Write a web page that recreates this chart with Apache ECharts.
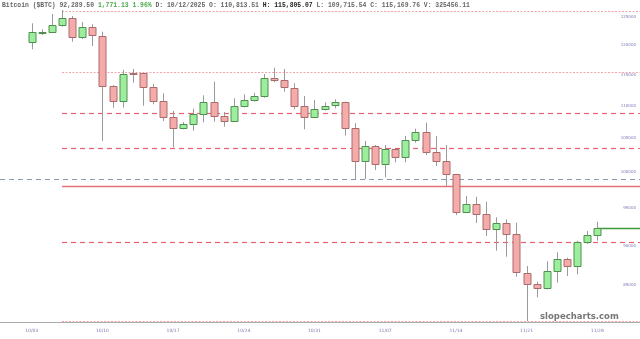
<!DOCTYPE html>
<html>
<head>
<meta charset="utf-8">
<script src="https://cdn.jsdelivr.net/npm/echarts@6/dist/echarts.min.js"></script>
<style>
html,body{margin:0;padding:0;background:#fff;}
#chart{width:640px;height:339px;}
</style>
</head>
<body>
<div id="chart"></div>
<script>
// ---- data ----
const dates = ['10/03','10/04','10/05','10/06','10/07','10/08','10/09','10/10','10/11','10/12',
  '10/13','10/14','10/15','10/16','10/17','10/18','10/19','10/20','10/21','10/22',
  '10/23','10/24','10/25','10/26','10/27','10/28','10/29','10/30','10/31','11/01',
  '11/02','11/03','11/04','11/05','11/06','11/07','11/08','11/09','11/10','11/11',
  '11/12','11/13','11/14','11/15','11/16','11/17','11/18','11/19','11/20','11/21',
  '11/22','11/23','11/24','11/25','11/26','11/27','11/28'];
const opens = [120489,122231,122336,123466,124713,121356,123218,121636,113160,110813.51,
  115341,115242,113046,110700,108186,106490,107150,108654,110542,108436,
  107614,110004,110955,111595,114418,114090,112835,110004,108233,109484,
  110067,110542,106490,101562,103819,101214,103328,102235,104716,105927,
  102972,101606,99685,94390,95481,94120,92115,92912,91457,86513,
  85120,84632,86799,88231,87387,90490,91325];
const closes = [122231,122336,123466,124713,121356,123218,121705,113160,110700,115169.76,
  115127,113046,110700,108186,106490,107105,108700,110542,108436,107660,
  110004,110955,111595,114418,114090,112949,110004,108233,109484,110004,
  110542,106490,101562,103819,101214,103328,102235,104716,105927,102972,
  101606,99685,94390,95481,94160,92115,92912,91457,86600,85120,
  84632,86799,88231,87387,90490,91325,92289.5];
const lows = [119283,121757,122160,123218,120592,121061,119850,104567,109688,109715.54,
  113696,110004,110226,107614,103625,106339,106125,107413,107505,106735,
  107505,109751,110637,111274,113762,112237,109437,106339,108077,109280,
  109594,105366,99014,99014,100301,99256,101417,101417,104311,102485,
  100880,98024,94025,94300,92952,91233,89328,88561,86054,80751,
  83546,84500,85315,86141,86352,90191,90620];
const highs = [123821,122759,125485,126209,125126,124053,123643,122336,113300,115805.07,
  115956,115341,113485,111979,109170,107459,109531,111650,113861,109013,
  111178,111819,112076,115127,116173,115956,113599,111547,110907,110542,
  111020,110637,107258,104567,103968,103968,103370,105320,106430,107350,
  105320,103968,99728,96626,96529,95838,93716,93448,92992,87387,
  85438,87978,89122,88434,90620,91890,93126];
const xTicks = ['10/03','10/10','10/17','10/24','10/31','11/07','11/14','11/21','11/28'];
const yTicks = [85000,90000,95000,100000,105000,110000,115000,120000,125000];

// horizontal levels
const dottedLevels = [126100, 115460, 80751];   // light pink dotted
const dashedLevels = [108800, 103480, 90450];    // red dashed
const solidLevels = [98060];                     // red solid
const blueLevels = [98980];                      // grey-blue dashed
const levelStartDate = '10/06';
const lastPrice = 92289.5;

// ---- build ----
const X_MIN = -3.14, X_MAX = 60.23;
const startIdx = dates.indexOf(levelStartDate);
const candleData = dates.map((d, i) => [i, opens[i], closes[i], lows[i], highs[i]]);

// dash patterns drawn as separate solid segments
const levelStyles = [
  {stroke: '#f2a7ae', dash: 2, gap: 1.5, lineWidth: 1},
  {stroke: '#e8606e', dash: 5, gap: 4, lineWidth: 1.2},
  {stroke: '#e3707a', dash: 0, gap: 0, lineWidth: 1.6},
  {stroke: '#8a94b4', dash: 5, gap: 4, lineWidth: 1},
  {stroke: '#3c9a3c', dash: 0, gap: 0, lineWidth: 1.5}
];
const levelData = [];
blueLevels.forEach(v => levelData.push([X_MIN, v, 3]));
dottedLevels.forEach(v => levelData.push([startIdx, v, 0]));
dashedLevels.forEach(v => levelData.push([startIdx, v, 1]));
solidLevels.forEach(v => levelData.push([startIdx, v, 2]));
levelData.push([dates.length - 1, lastPrice, 4]);

const chart = echarts.init(document.getElementById('chart'), null, {renderer: 'canvas'});
const mono = '"Liberation Mono", "DejaVu Sans Mono", monospace';
chart.setOption({
  animation: false,
  backgroundColor: '#fff',
  title: {
    left: 2, top: 2, padding: 0,
    text: '{g|Bitcoin ($BTC) 92,289.50 }{gr|1,771.13 1.96%}{g| D: 10/12/2025 O: 110,813.51 }{b|H: 115,805.07}{g| L: 109,715.54 C: 115,169.76 V: 325456.11}',
    textStyle: {
      fontFamily: mono, fontSize: 6.4, color: '#666',
      rich: {
        g: {fontFamily: mono, fontSize: 6.4, color: '#666'},
        gr: {fontFamily: mono, fontSize: 6.4, color: '#48a848'},
        b: {fontFamily: mono, fontSize: 6.4, color: '#222', fontWeight: 'bold'}
      }
    }
  },
  graphic: [{
    type: 'text', left: 540, top: 312, z: 10,
    style: {text: 'slopecharts.com', fontFamily: '"DejaVu Sans", sans-serif', fontSize: 8.5, fontWeight: 'bold', fill: '#777'}
  }],
  grid: {left: 0, right: 0, top: 0, height: 322},
  xAxis: {
    type: 'value', min: X_MIN, max: X_MAX,
    axisLine: {show: true, onZero: false, lineStyle: {color: '#aaa', width: 1}},
    axisTick: {show: false},
    splitLine: {show: false},
    axisLabel: {
      customValues: xTicks.map(t => dates.indexOf(t)),
      formatter: v => dates[Math.round(v)],
      fontSize: 4.5, color: '#7a7ab0', margin: 6, fontFamily: '"DejaVu Sans", sans-serif'
    }
  },
  yAxis: {
    type: 'log', logBase: 10, min: 80634, max: 128034, position: 'right',
    axisLine: {show: false, onZero: false}, axisTick: {show: false}, splitLine: {show: false},
    axisLabel: {
      inside: true, margin: 4, customValues: yTicks,
      formatter: v => String(Math.round(v)),
      fontSize: 4, color: '#7a7ab8', fontFamily: '"DejaVu Sans", sans-serif'
    }
  },
  series: [
    {
      type: 'custom', z: 1, silent: true, data: levelData,
      encode: {x: 0, y: 1},
      renderItem: function (params, api) {
        const from = api.value(0), v = api.value(1), s = levelStyles[api.value(2)];
        const p1 = api.coord([from, v]);
        const p2 = api.coord([X_MAX, v]);
        const y = Math.round(p1[1]) + 0.5;
        const style = {stroke: s.stroke, lineWidth: s.lineWidth, fill: null};
        const children = [];
        if (!s.dash) {
          children.push({type: 'line', shape: {x1: p1[0], y1: y, x2: p2[0], y2: y}, style: Object.assign({}, style)});
        } else {
          for (let x = p1[0]; x < p2[0]; x += s.dash + s.gap) {
            children.push({type: 'line', shape: {x1: x, y1: y, x2: Math.min(x + s.dash, p2[0]), y2: y},
              style: Object.assign({}, style)});
          }
        }
        return {type: 'group', children: children};
      }
    },
    {
      type: 'custom', z: 2, data: candleData,
      encode: {x: 0, y: [1, 2, 3, 4]},
      renderItem: function (params, api) {
        const i = api.value(0), o = api.value(1), c = api.value(2), l = api.value(3), h = api.value(4);
        const pO = api.coord([i, o]), pC = api.coord([i, c]), pL = api.coord([i, l]), pH = api.coord([i, h]);
        const up = c >= o;
        const cx = Math.round(pO[0]) + 0.5;
        const top = Math.round(Math.min(pO[1], pC[1])) + 0.5;
        const bot = Math.round(Math.max(pO[1], pC[1])) + 0.5;
        const w = 7;
        return {type: 'group', children: [
          {type: 'line', shape: {x1: cx, y1: pH[1], x2: cx, y2: pL[1]}, style: {stroke: '#9a9a9a', lineWidth: 1}},
          {type: 'rect', shape: {x: cx - w / 2, y: top, width: w, height: Math.max(bot - top, 1)},
           style: {fill: up ? '#9cee9c' : '#f6abab', stroke: up ? '#4f8f4f' : '#a86c6c', lineWidth: 1}}
        ]};
      }
    }
  ]
});
</script>
</body>
</html>
